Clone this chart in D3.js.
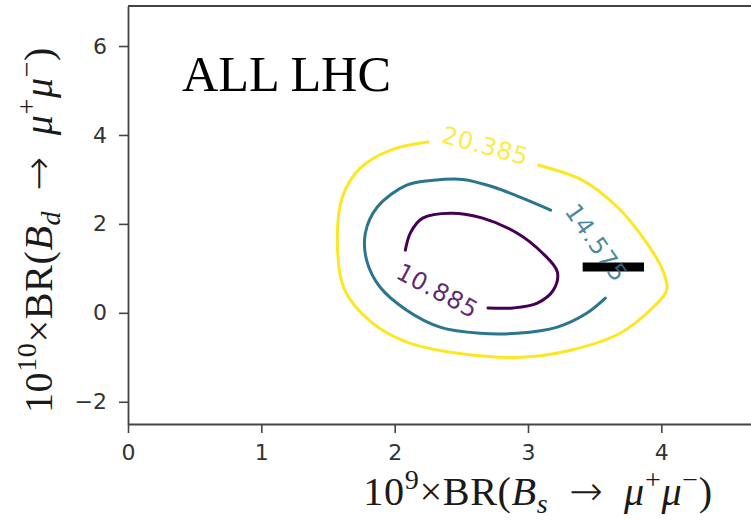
<!DOCTYPE html>
<html>

<head>
    <meta charset="UTF-8">
    <style>
        body { margin: 0; background: white; }
        .tick text { font-family: "DejaVu Sans", sans-serif; }
    </style>
    <title>ALL LHC contour</title>
</head>

<body>
    <svg></svg>
    <script src="https://d3js.org/d3.v7.min.js"></script>

    <script>
        let width = 751, height = 520;

        // contour levels and the traced contour lines (Bs, Bd) in data units
        const levels = [10.885, 14.575, 20.385];

        const contour10 = [[2.70, 0.11], [2.89, 0.11], [3.07, 0.22], [3.19, 0.51], [3.22, 0.92],
            [3.11, 1.34], [2.92, 1.79], [2.66, 2.13], [2.42, 2.24], [2.21, 2.13], [2.12, 1.81], [2.08, 1.41]];

        const contour14 = [[3.17, 2.31], [2.94, 2.60], [2.74, 2.83], [2.51, 3.00], [2.29, 2.98],
            [2.09, 2.87], [1.87, 2.38], [1.78, 1.79], [1.79, 1.18], [1.89, 0.58], [2.09, 0.06],
            [2.34, -0.32], [2.64, -0.46], [2.92, -0.46], [3.22, -0.32], [3.44, -0.01], [3.58, 0.33]];

        const contour20 = [[3.08, 3.32], [3.41, 2.98], [3.67, 2.38], [3.86, 1.70], [4.01, 0.96],
            [4.04, 0.51], [3.94, 0.13], [3.69, -0.46], [3.32, -0.84], [2.94, -1.00], [2.47, -0.91],
            [2.09, -0.66], [1.82, -0.20], [1.62, 0.55], [1.57, 1.63], [1.61, 2.62], [1.74, 3.25],
            [1.97, 3.66], [2.25, 3.84]];

        // inline label anchor (Bs, Bd) and text angle for each level
        const labelPos = [[2.32, 0.49], [3.51, 1.57], [2.68, 3.75]];
        const labelAngle = [28, 55, 15];

        // black bar
        const barBs = [3.41, 3.87];
        const barBd = 1.03;

        const xTicks = [0, 1, 2, 3, 4];
        const yTicks = [-2, 0, 2, 4, 6];

        let svg = d3.select("svg")
            .attr("width", width)
            .attr("height", height)
            .attr("viewBox", "0 0 " + width + " " + height)

        let x = d3.scaleLinear().domain([0, 4.8]).range([128, 768]);
        let y = d3.scaleLinear().domain([-2.5, 6.9]).range([424, 6]);

        const colorScale = d3.scaleSequential(d3.interpolateViridis)
            .domain([levels[0], levels[2]]);

        // axes
        let xAxis = svg.append("g")
            .attr("transform", "translate(0," + y.range()[0] + ")")
            .call(d3.axisBottom(x).tickValues(xTicks).tickFormat(d3.format("d"))
                .tickSize(9).tickSizeOuter(0).tickPadding(11));
        let yAxis = svg.append("g")
            .attr("transform", "translate(" + x.range()[0] + ",0)")
            .call(d3.axisLeft(y).tickValues(yTicks).tickFormat(d3.format("d"))
                .tickSize(9).tickSizeOuter(0).tickPadding(12));

        svg.selectAll(".tick text").attr("font-size", 22).attr("fill", "#333");
        svg.selectAll(".tick line").attr("stroke", "#444").attr("stroke-width", 1.6);
        svg.selectAll(".domain").attr("stroke", "#444").attr("stroke-width", 1.8);

        // top spine (right spine falls outside the picture)
        svg.append("path")
            .attr("d", "M" + x.range()[0] + "," + y.range()[1] + "H" + x.range()[1] + "V" + y.range()[0])
            .attr("fill", "none")
            .attr("stroke", "#444")
            .attr("stroke-width", 1.8);

        // contour lines
        let line = d3.line()
            .x(d => x(d[0]))
            .y(d => y(d[1]))
            .curve(d3.curveCatmullRom.alpha(0.5));

        let contours = [contour10, contour14, contour20];
        svg.append("g")
            .selectAll("path")
            .data(contours)
            .enter()
            .append("path")
            .attr("d", line)
            .attr("fill", "none")
            .attr("stroke", (d, i) => colorScale(levels[i]))
            .attr("stroke-width", 3)
            .attr("stroke-linecap", "round");

        // black bar
        svg.append("line")
            .attr("x1", x(barBs[0]))
            .attr("x2", x(barBs[1]))
            .attr("y1", y(barBd))
            .attr("y2", y(barBd))
            .attr("stroke", "black")
            .attr("stroke-width", 9);

        // contour labels
        svg.append("g")
            .selectAll("text")
            .data(levels)
            .enter()
            .append("text")
            .attr("transform", (d, i) => "translate(" + x(labelPos[i][0]) + "," + y(labelPos[i][1]) + ") rotate(" + labelAngle[i] + ")")
            .attr("text-anchor", "middle")
            .attr("dominant-baseline", "central")
            .attr("font-family", "DejaVu Sans, sans-serif")
            .attr("font-size", 24)
            .attr("letter-spacing", 0.8)
            .attr("fill", d => colorScale(d))
            .attr("fill-opacity", 0.85)
            .text(d => d3.format(".3f")(d));

        // math-style axis titles
        function mathLabel(sel, parts, fs) {
            sel.selectAll("tspan").remove();
            let shift = 0;
            parts.forEach(p => {
                let target = p.s === "sup" ? -0.4 * fs : p.s === "sub" ? 0.2 * fs : 0;
                let t = sel.append("tspan")
                    .attr("dy", target - shift)
                    .attr("font-size", p.s ? 0.7 * fs : fs)
                    .text(p.t);
                if (p.i) t.attr("font-style", "italic");
                if (p.a) t.attr("font-family", "DejaVu Sans, sans-serif").attr("font-weight", 300);
                shift = target;
            });
        }

        function fitLabel(sel, parts, fs, target) {
            mathLabel(sel, parts, fs);
            let w = sel.node().getBBox().width;
            mathLabel(sel, parts, fs * target / w);
        }

        let xParts = [{ t: "10" }, { t: "9", s: "sup" }, { t: "×BR(" }, { t: "B", i: 1 }, { t: "s", i: 1, s: "sub" },
            { t: "\u2002→\u2002", a: 1 }, { t: "μ", i: 1 }, { t: "+", s: "sup" }, { t: "μ", i: 1 }, { t: "−", s: "sup" }, { t: ")" }];
        let yParts = [{ t: "10" }, { t: "10", s: "sup" }, { t: "×BR(" }, { t: "B", i: 1 }, { t: "d", i: 1, s: "sub" },
            { t: "\u2002→\u2002", a: 1 }, { t: "μ", i: 1 }, { t: "+", s: "sup" }, { t: "μ", i: 1 }, { t: "−", s: "sup" }, { t: ")" }];

        let xLabel = svg.append("text")
            .attr("x", 538)
            .attr("y", 505)
            .attr("text-anchor", "middle")
            .attr("font-family", "Liberation Serif, serif")
            .attr("letter-spacing", 0.6)
            .attr("fill", "#1a1a1a");
        fitLabel(xLabel, xParts, 30, 353);

        let yLabel = svg.append("text")
            .attr("transform", "translate(52,230) rotate(-90)")
            .attr("text-anchor", "middle")
            .attr("font-family", "Liberation Serif, serif")
            .attr("letter-spacing", 0.6)
            .attr("fill", "#1a1a1a");
        fitLabel(yLabel, yParts, 30, 370);

        // panel title
        let title = svg.append("text")
            .attr("x", 182)
            .attr("y", 91)
            .attr("font-family", "Liberation Serif, serif")
            .attr("font-size", 48)
            .attr("fill", "black")
            .text("ALL LHC");
        let tw = title.node().getComputedTextLength();
        title.attr("font-size", 48 * 209 / tw);

    </script>
</body>

</html>
